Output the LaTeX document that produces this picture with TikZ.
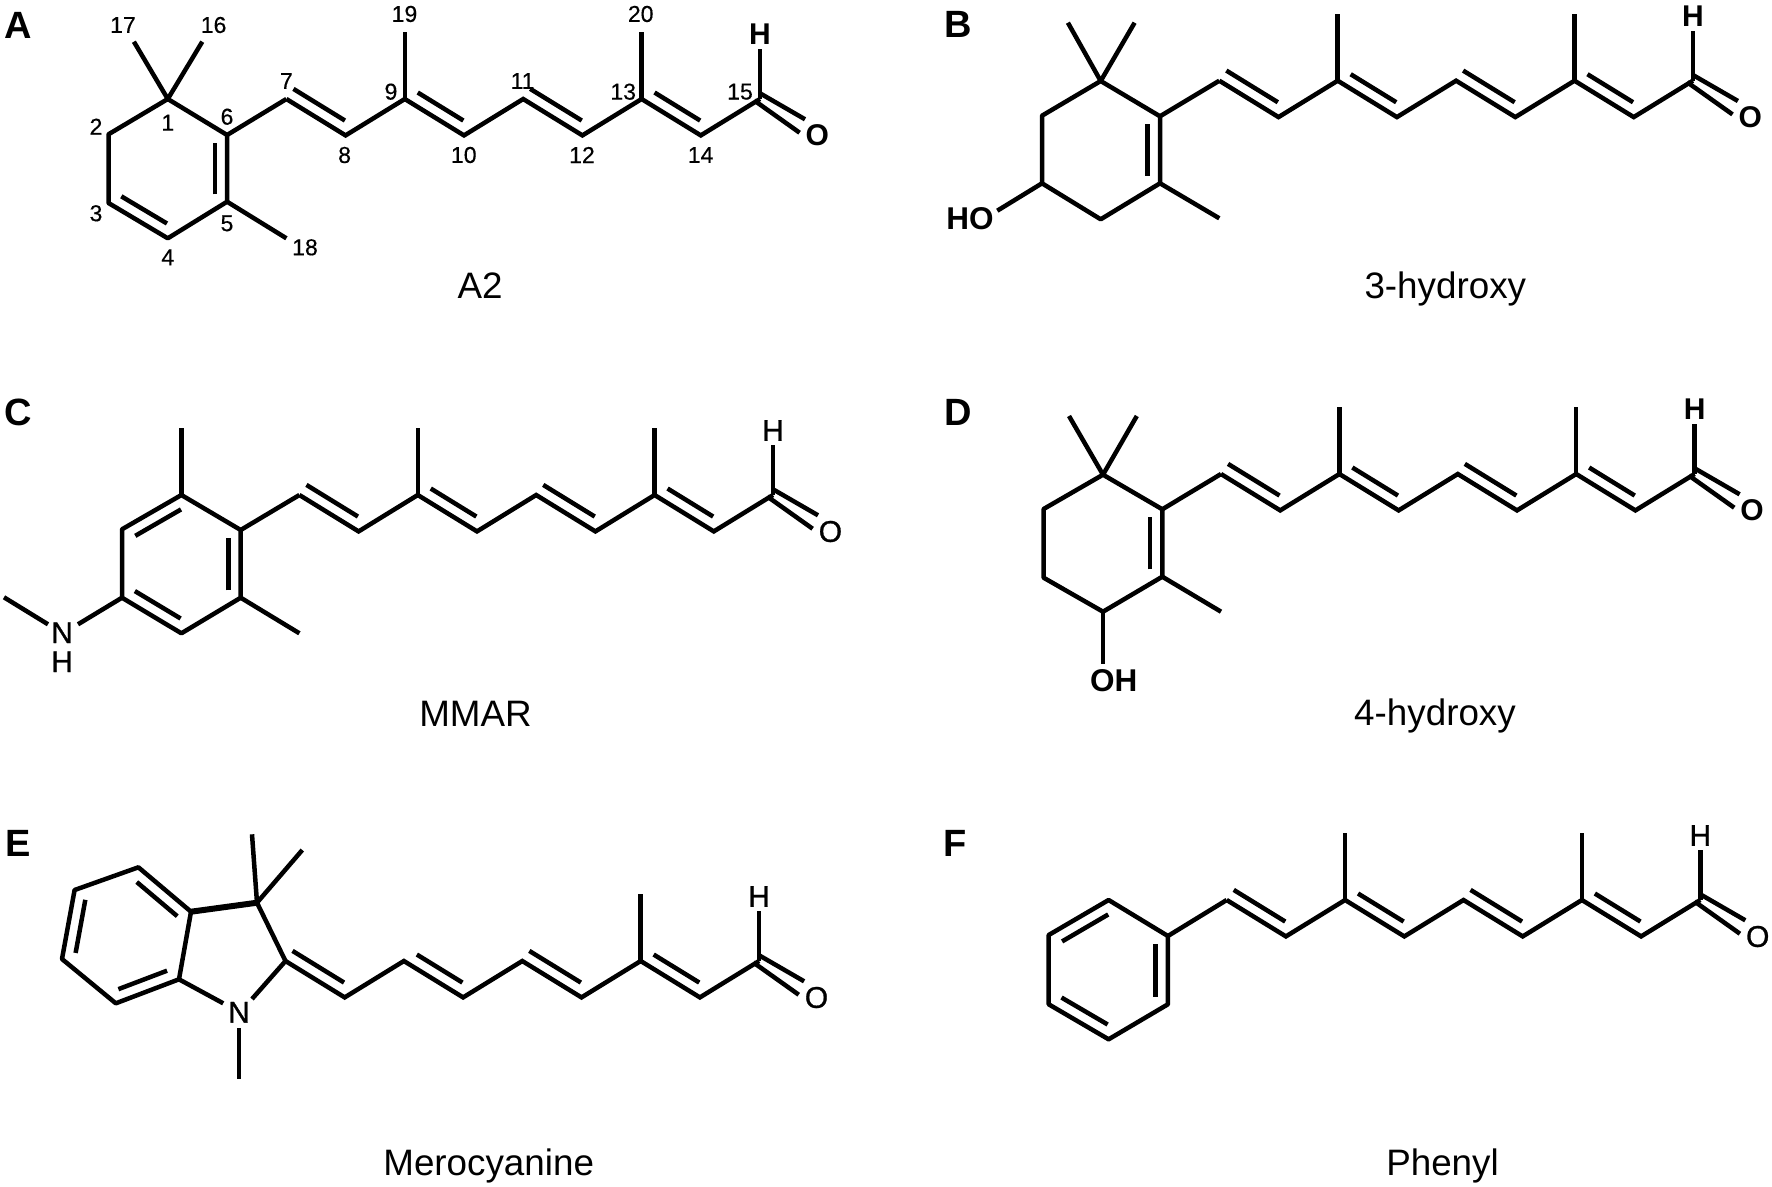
\documentclass[tikz,border=0pt]{standalone}
\usepackage{fontspec}
\setmainfont{Liberation Sans}
\newfontfamily\numfont[FakeBold=0.4]{Liberation Sans}
\newfontfamily\atomfont[FakeBold=0.9]{Liberation Sans}
\usetikzlibrary{calc}
\tikzset{
  bondline/.style={line width=4.5pt,line cap=butt,line join=miter,miter limit=4},
  num/.style={inner sep=0pt,font=\numfont\fontsize{23}{23}\selectfont},
  caption/.style={inner sep=0pt,anchor=base,font=\fontsize{36.8}{36.8}\selectfont},
  panel/.style={inner sep=0pt,font=\fontsize{38}{38}\selectfont\bfseries},
  atomb/.style={inner sep=4pt,font=\fontsize{30}{30}\selectfont\bfseries},
  atomr/.style={inner sep=4pt,font=\atomfont\fontsize{30}{30}\selectfont},
}
\newcommand\dbl[3][.11]{\draw[bondline] ($(#2)!#1!(#3)!12.3pt!90:(#3)$) -- ($(#2)!.88!(#3)!12.3pt!90:(#3)$);}
% #1 prefix, #2 x, #3 y, #4 atom label style
\newcommand\chainpart[4]{%
  \begin{scope}[shift={(#2,#3)}]
    \coordinate (#10) at (0,0);
    \coordinate (#11) at (59.2,36.4);
    \coordinate (#12) at (118.4,0);
    \coordinate (#13) at (177.6,36.4);
    \coordinate (#14) at (236.8,0);
    \coordinate (#15) at (296,36.4);
    \coordinate (#16) at (355.2,0);
    \coordinate (#17) at (414.4,36.4);
    \coordinate (#18) at (473.6,0);
    \coordinate (#1ma) at (118.4,-67);
    \coordinate (#1mb) at (355.2,-67);
    \coordinate (#1oa) at (473.6,-5.7);
    \coordinate (#1ob) at (518.6,20.3);
    \coordinate (#1oc) at (467.9,1.5);
    \coordinate (#1od) at (513.2,33.7);
    \node[#4] (#1H) at (473.6,-64.5) {H};
    \node[#4] (#1O) at (531,36.5) {O};
  \end{scope}
  \draw[bondline] (#10) -- (#11) -- (#12) -- (#13) -- (#14) -- (#15) -- (#16) -- (#17) -- (#18);
  \draw[bondline] (#16) -- (#1mb);
  \draw[bondline] (#18) -- (#1H);
  \draw[bondline] (#1oa) -- (#1ob);
  \draw[bondline] (#1oc) -- (#1od);
  \dbl[.01]{#10}{#11}
  \dbl{#12}{#13}
  \dbl[.01]{#14}{#15}
  \dbl{#16}{#17}
}
\begin{document}
\begin{tikzpicture}[x=1pt,y=-1pt]
\useasboundingbox (0,0) rectangle (1772,1186);
\fill[white] (0,0) rectangle (1772,1186);

%% Panel A
\node[panel] (lA) at (18,25) {A};
\chainpart{a}{286.4}{99}{atomb}
\draw[bondline] (a2) -- (ama);
\coordinate (a-c1) at (167.8,99);
\coordinate (a-c6) at (227.1,135);
\coordinate (a-c5) at (227.1,201.7);
\coordinate (a-c4) at (167.8,238.3);
\coordinate (a-c3) at (108.5,203);
\coordinate (a-c2) at (108.5,134.3);
\coordinate (a-m17) at (133.9,41.7);
\coordinate (a-m16) at (202.3,41.7);
\coordinate (a-m18) at (286.4,238.3);
\draw[bondline,line join=round] (a-c1) -- (a-c6) -- (a-c5) -- (a-c4) -- (a-c3) -- (a-c2) -- cycle;
\draw[bondline] (a-c6) -- (a0);
\draw[bondline] (a-c1) -- (a-m17);
\draw[bondline] (a-c1) -- (a-m16);
\draw[bondline] (a-c5) -- (a-m18);
\dbl{a-c5}{a-c6}
\dbl{a-c3}{a-c4}
\node[num] (n17) at (123,25) {17};
\node[num] (n16) at (213.6,25) {16};
\node[num] (n19) at (404.5,14) {19};
\node[num] (n20) at (640.7,14) {20};
\node[num] (n7) at (286.4,81) {7};
\node[num] (n9) at (391,91.7) {9};
\node[num] (n11) at (522.6,81) {11};
\node[num] (n13) at (623.2,91.7) {13};
\node[num] (n15) at (740,91.7) {15};
\node[num] (n6) at (227,116.7) {6};
\node[num] (n1) at (167.8,122.7) {1};
\node[num] (n2) at (96,126.7) {2};
\node[num] (n3) at (96,213.3) {3};
\node[num] (n4) at (167.8,257.3) {4};
\node[num] (n5) at (227,223.3) {5};
\node[num] (n18) at (305,247.3) {18};
\node[num] (n8) at (344.6,155) {8};
\node[num] (n10) at (463.8,155) {10};
\node[num] (n12) at (582,155) {12};
\node[num] (n14) at (700.6,155) {14};
\node[caption] (capA) at (480,298) {A2};

%% Panel B
\node[panel] (lB) at (958,24) {B};
\chainpart{b}{1219.3}{80.7}{atomb}
\draw[bondline] (b2) -- (bma);
\coordinate (b-c1) at (1100.7,81);
\coordinate (b-c6) at (1160,116.3);
\coordinate (b-c5) at (1160,183.3);
\coordinate (b-c4) at (1100.7,219.3);
\coordinate (b-c3) at (1042,183.3);
\coordinate (b-c2) at (1042,115.7);
\coordinate (b-m1) at (1067.9,22.7);
\coordinate (b-m2) at (1134.6,22.7);
\coordinate (b-m5) at (1219.3,218.3);
\coordinate (b-oh) at (997.3,210.7);
\draw[bondline,line join=round] (b-c1) -- (b-c6) -- (b-c5) -- (b-c4) -- (b-c3) -- (b-c2) -- cycle;
\draw[bondline] (b-c6) -- (b0);
\draw[bondline] (b-c1) -- (b-m1);
\draw[bondline] (b-c1) -- (b-m2);
\draw[bondline] (b-c5) -- (b-m5);
\draw[bondline] (b-c3) -- (b-oh);
\dbl{b-c5}{b-c6}
\node[atomb,inner sep=0pt,font=\fontsize{31.5}{31.5}\selectfont\bfseries] (HOb) at (970,219) {HO};
\node[caption] (capB) at (1445.3,298) {3-hydroxy};

%% Panel C
\node[panel] (lC) at (18,412.7) {C};
\chainpart{c}{299.4}{495}{atomr}
\draw[bondline] (c2) -- (cma);
\coordinate (c-r1) at (181.4,495);
\coordinate (c-r2) at (122,529.3);
\coordinate (c-r3) at (122,597.7);
\coordinate (c-r4) at (181.4,633.3);
\coordinate (c-r5) at (240.7,597.7);
\coordinate (c-r6) at (240.7,530);
\coordinate (c-mt) at (181.4,427.7);
\coordinate (c-mr) at (299.4,633.3);
\coordinate (c-nb) at (78,624.3);
\coordinate (c-nm) at (48,624.3);
\coordinate (c-me) at (4,597.3);
\draw[bondline,line join=round] (c-r1) -- (c-r2) -- (c-r3) -- (c-r4) -- (c-r5) -- (c-r6) -- cycle;
\draw[bondline] (c-r6) -- (c0);
\draw[bondline] (c-r1) -- (c-mt);
\draw[bondline] (c-r5) -- (c-mr);
\draw[bondline] (c-r3) -- (c-nb);
\draw[bondline] (c-nm) -- (c-me);
\dbl{c-r1}{c-r2}
\dbl{c-r3}{c-r4}
\dbl{c-r5}{c-r6}
\node[atomr,inner sep=0pt] (Nc) at (62.1,632.7) {N};
\node[atomr,inner sep=0pt] (Hc) at (62.1,661.7) {H};
\node[caption] (capC) at (475.5,726.7) {MMAR};

%% Panel D
\node[panel] (lD) at (958,412.7) {D};
\chainpart{d}{1221}{474}{atomb}
\draw[bondline] (d2) -- (dma);
\coordinate (d-c1) at (1103,474.7);
\coordinate (d-c6) at (1162.3,509.3);
\coordinate (d-c5) at (1162.3,576.7);
\coordinate (d-c4) at (1103,611.7);
\coordinate (d-c3) at (1043.6,577.7);
\coordinate (d-c2) at (1043.6,509);
\coordinate (d-m1) at (1069,416);
\coordinate (d-m2) at (1136.8,416);
\coordinate (d-m5) at (1221,611.7);
\node[atomb,inner sep=0pt,font=\fontsize{31.5}{31.5}\selectfont\bfseries] (OHd) at (1113.7,681) {OH};
\coordinate (d-oh) at (1103,664);
\draw[bondline,line join=round] (d-c1) -- (d-c6) -- (d-c5) -- (d-c4) -- (d-c3) -- (d-c2) -- cycle;
\draw[bondline] (d-c6) -- (d0);
\draw[bondline] (d-c1) -- (d-m1);
\draw[bondline] (d-c1) -- (d-m2);
\draw[bondline] (d-c5) -- (d-m5);
\draw[bondline] (d-c4) -- (d-oh);
\dbl{d-c5}{d-c6}
\node[caption] (capD) at (1435,725) {4-hydroxy};

%% Panel E
\node[panel] (lE) at (18,843.3) {E};
\chainpart{e}{285.5}{961}{atomr}
\coordinate (e-c3) at (257,902.7);
\coordinate (e-c3a) at (191,911.7);
\coordinate (e-c7a) at (179,979.3);
\coordinate (e-c4) at (138.4,867.3);
\coordinate (e-c5) at (74.6,890);
\coordinate (e-c6) at (62,959);
\coordinate (e-c7) at (115.8,1003.3);
\coordinate (e-m1) at (252,834.3);
\coordinate (e-m2) at (302.3,850);
\coordinate (e-n1) at (223.2,1003.3);
\coordinate (e-n2) at (252,999);
\coordinate (e-n3) at (239,1028.3);
\coordinate (e-n4) at (239,1079.3);
\node[atomr,inner sep=0pt] (Ne) at (239,1012.3) {N};
\draw[bondline,line join=round] (e-c3a) -- (e-c4) -- (e-c5) -- (e-c6) -- (e-c7) -- (e-c7a) -- cycle;
\draw[line width=6pt] (e-c3a) -- (e-c3);
\draw[bondline] (e-c3) -- (e0);
\draw[bondline] (e-c3) -- (e-m1);
\draw[bondline] (e-c3) -- (e-m2);
\draw[bondline] (e-c7a) -- (e-n1);
\draw[bondline] (e-n2) -- (e0);
\draw[bondline] (e-n3) -- (e-n4);
\dbl{e-c3a}{e-c4}
\dbl{e-c5}{e-c6}
\dbl{e-c7}{e-c7a}
\node[caption] (capE) at (488.7,1175) {Merocyanine};

%% Panel F
\node[panel] (lF) at (955,843.3) {F};
\chainpart{f}{1226.7}{900}{atomr}
\draw[bondline] (f2) -- (fma);
\coordinate (f-r1) at (1108.6,900);
\coordinate (f-r2) at (1048.7,935);
\coordinate (f-r3) at (1048.7,1004.3);
\coordinate (f-r4) at (1108.6,1039.3);
\coordinate (f-r5) at (1167.9,1004.3);
\coordinate (f-r6) at (1167.9,936);
\draw[bondline,line join=round] (f-r1) -- (f-r2) -- (f-r3) -- (f-r4) -- (f-r5) -- (f-r6) -- cycle;
\draw[bondline] (f-r6) -- (f0);
\dbl{f-r1}{f-r2}
\dbl{f-r3}{f-r4}
\dbl{f-r5}{f-r6}
\node[caption] (capF) at (1442.5,1175) {Phenyl};
\end{tikzpicture}
\end{document}
